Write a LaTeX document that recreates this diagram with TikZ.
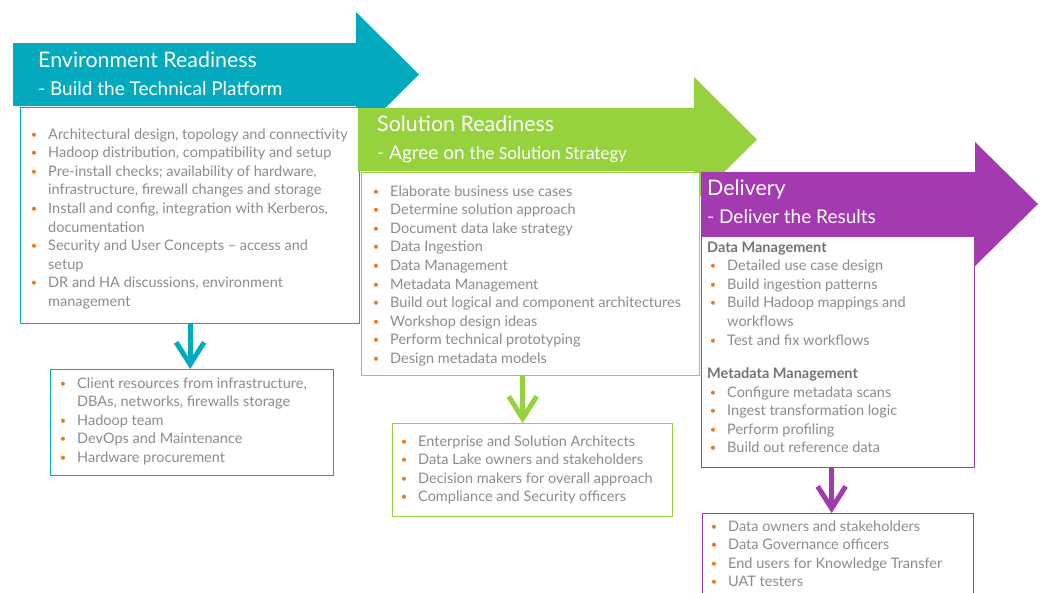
\documentclass[tikz,border=0pt]{standalone}
\usepackage{fontspec}
\setmainfont{Lato}
\newfontfamily\calib{Carlito}
\usetikzlibrary{arrows.meta}
\definecolor{teal1}{RGB}{3,169,188}
\definecolor{green1}{RGB}{150,209,62}
\definecolor{purp1}{RGB}{163,58,176}
\definecolor{txtgray}{RGB}{140,140,140}
\definecolor{headgray}{RGB}{115,115,115}
\definecolor{bulorange}{RGB}{240,120,30}
\newcommand\plist[4]{%
  \foreach \k/\t [count=\i] in {#4} {\node[style/.expanded=\k] (#1\i) at ({#2},{#3+(\i-1)*18.6}) {\t};}}
\tikzset{
  ln/.style={anchor=base west, inner sep=0pt, font=\fontsize{14.5}{17}\selectfont, text=txtgray},
  bul/.style={ln, execute at begin node={\makebox[0pt][r]{\textcolor{bulorange}{\fontsize{11}{12}\selectfont\raisebox{1pt}{•}}\hspace{11pt}}}},
  cont/.style={ln},
  hd/.style={ln, font=\fontsize{14.5}{17}\selectfont\bfseries, text=headgray, xshift=-20pt},
  panel/.style={draw, line width=1.3pt, fill=white, anchor=north west, inner sep=0pt},
  darr/.style={line width=5pt, -{Straight Barb[length=22pt,width=28pt]}},
  ttlA/.style={anchor=base west, inner sep=0pt, text=white, font=\fontsize{21.4}{24}\selectfont},
  ttlB/.style={anchor=base west, inner sep=0pt, text=white, font=\fontsize{19}{22}\selectfont},
}
\begin{document}
\begin{tikzpicture}[x=1pt,y=-1pt]
\useasboundingbox (0,0) rectangle (1041,592);
\clip (0,0) rectangle (1041,592);
% stage 1
\fill[teal1] (13,43) -- (356,43) -- (356,12) -- (419,74.5) -- (356,137) -- (356,106) -- (13,106) -- cycle;
\node[ttlA] (t1a) at (38,67) {Environment Readiness};
\node[ttlB] (t1b) at (38,95) {- Build the Technical Platform};
\node[panel, draw=teal1, minimum width=339pt, minimum height=216pt] (p1) at (20,107) {};
\plist{a}{48}{139}{bul/{Architectural design, topology and connectivity},
  bul/{Hadoop distribution, compatibility and setup},
  bul/{Pre-install checks; availability of hardware,},
  cont/{infrastructure, firewall changes and storage},
  bul/{Install and config, integration with Kerberos,},
  cont/{documentation},
  bul/{Security and User Concepts – access and},
  cont/{setup},
  bul/{DR and HA discussions, environment},
  cont/{management}}
\node[panel, draw=teal1, minimum width=283pt, minimum height=106pt] (p1b) at (50,369) {};
\plist{ab}{77}{388}{bul/{Client resources from infrastructure,},
  cont/{DBAs, networks, firewalls storage},
  bul/{Hadoop team},
  bul/{DevOps and Maintenance},
  bul/{Hardware procurement}}
% stage 2
\fill[green1] (358,108) -- (694,108) -- (694,77) -- (757,139.5) -- (694,202) -- (694,171) -- (358,171) -- cycle;
\node[ttlA] (t2a) at (377,131) {Solution Readiness};
\node[ttlB] (t2b) at (377,159) {- Agree on {\calib\fontsize{18.5}{22}\selectfont the Solution Strategy}};
\node[panel, draw=green1, minimum width=338pt, minimum height=203pt] (p2) at (361,172) {};
\plist{b}{390}{196}{bul/{Elaborate business use cases},
  bul/{Determine solution approach},
  bul/{Document data lake strategy},
  bul/{Data Ingestion},
  bul/{Data Management},
  bul/{Metadata Management},
  bul/{Build out logical and component architectures},
  bul/{Workshop design ideas},
  bul/{Perform technical prototyping},
  bul/{Design metadata models}}
\node[panel, draw=green1, minimum width=280pt, minimum height=93pt] (p2b) at (392,423) {};
\plist{bb}{418}{446}{bul/{Enterprise and Solution Architects},
  bul/{Data Lake owners and stakeholders},
  bul/{Decision makers for overall approach},
  bul/{Compliance and Security officers}}
% stage 3
\fill[purp1] (701,172) -- (975,172) -- (975,142) -- (1038,204) -- (975,266) -- (975,236) -- (701,236) -- cycle;
\node[ttlA] (t3a) at (707,195) {Delivery};
\node[ttlB] (t3b) at (707,223) {- Deliver the Results};
\node[panel, draw=purp1, minimum width=273pt, minimum height=231pt] (p3) at (701,236) {};
\plist{c}{727}{252}{hd/{Data Management},
  bul/{Detailed use case design},
  bul/{Build ingestion patterns},
  bul/{Build Hadoop mappings and},
  cont/{workflows},
  bul/{Test and fix workflows}}
\plist{d}{727}{378.5}{hd/{Metadata Management},
  bul/{Configure metadata scans},
  bul/{Ingest transformation logic},
  bul/{Perform profiling},
  bul/{Build out reference data}}
\node[panel, draw=purp1, minimum width=271pt, minimum height=100pt] (p3b) at (702,513) {};
\plist{cb}{728}{531}{bul/{Data owners and stakeholders},
  bul/{Data Governance officers},
  bul/{End users for Knowledge Transfer},
  bul/{UAT testers}}
% down arrows
\coordinate (s1) at (p1.south);
\coordinate (s2) at ([xshift=-8pt]p2.south);
\coordinate (s3) at ([xshift=-6.5pt]p3.south);
\draw[darr, teal1] (s1) -- (s1 |- p1b.north);
\draw[darr, green1] (s2) -- (s2 |- p2b.north);
\draw[darr, purp1] (s3) -- (s3 |- p3b.north);
\end{tikzpicture}
\end{document}
